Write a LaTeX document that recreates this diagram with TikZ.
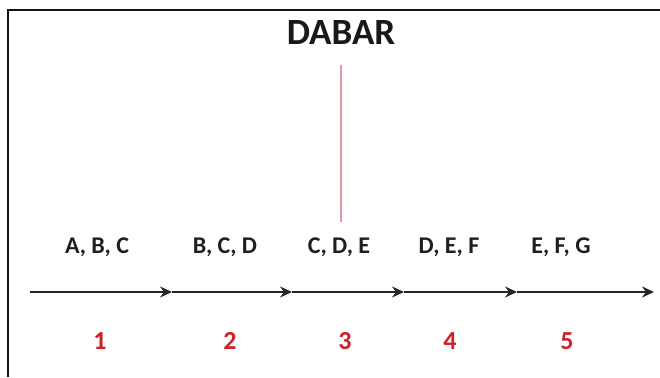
\documentclass[tikz,border=0pt]{standalone}
\usepackage{fontspec}
\setmainfont{Carlito}
\usetikzlibrary{arrows.meta}
\definecolor{framegray}{RGB}{20,20,20}
\definecolor{numred}{RGB}{205,35,40}
\definecolor{pinkline}{RGB}{232,150,160}
\tikzset{
  frameline/.style={draw=framegray, line width=2pt},
  timeline/.style={draw=black!85, line width=2.3pt,
    -{Stealth[length=12pt,width=11pt,inset=4pt]}},
  setlabel/.style={anchor=base, font=\fontsize{24}{26}\selectfont\bfseries, text=black!88, inner sep=0pt},
  steplabel/.style={anchor=base, font=\fontsize{26}{28}\selectfont\bfseries, text=numred, inner sep=0pt},
  titlelabel/.style={anchor=base, font=\fontsize{37}{40}\selectfont\bfseries, text=black!90, inner sep=0pt},
  marker/.style={draw=pinkline, line width=1.5pt}
}
\begin{document}
\begin{tikzpicture}[x=1pt, y=-1pt]
  \useasboundingbox (0,0) rectangle (660,377);
  % frame (top and left edges)
  \coordinate (fl) at (8,377);
  \coordinate (ftl) at (8,10);
  \coordinate (ftr) at (660,10);
  \draw[frameline] (fl) -- (ftl) -- (ftr);

  % title and its marker line
  \node[titlelabel] (title) at (341,45) {DABAR};
  \coordinate (mtop) at (341,65);
  \coordinate (mbot) at (341,222);
  \draw[marker] (mtop) -- (mbot);

  % time axis points
  \coordinate (p0) at (30,292);
  \coordinate (p1) at (172,292);
  \coordinate (p2) at (292,292);
  \coordinate (p3) at (404,292);
  \coordinate (p4) at (517,292);
  \coordinate (p5) at (654,292);
  \draw[timeline] (p0) -- (p1);
  \draw[timeline] (p1) -- (p2);
  \draw[timeline] (p2) -- (p3);
  \draw[timeline] (p3) -- (p4);
  \draw[timeline] (p4) -- (p5);

  % window contents
  \node[setlabel] (s1) at (97,253) {A, B, C};
  \node[setlabel] (s2) at (225,253) {B, C, D};
  \node[setlabel] (s3) at (339,253) {C, D, E};
  \node[setlabel] (s4) at (449,253) {D, E, F};
  \node[setlabel] (s5) at (561,253) {E, F, G};

  % window numbers
  \node[steplabel] (n1) at (100,349) {1};
  \node[steplabel] (n2) at (230,349) {2};
  \node[steplabel] (n3) at (345,349) {3};
  \node[steplabel] (n4) at (450,349) {4};
  \node[steplabel] (n5) at (567,349) {5};
\end{tikzpicture}
\end{document}
